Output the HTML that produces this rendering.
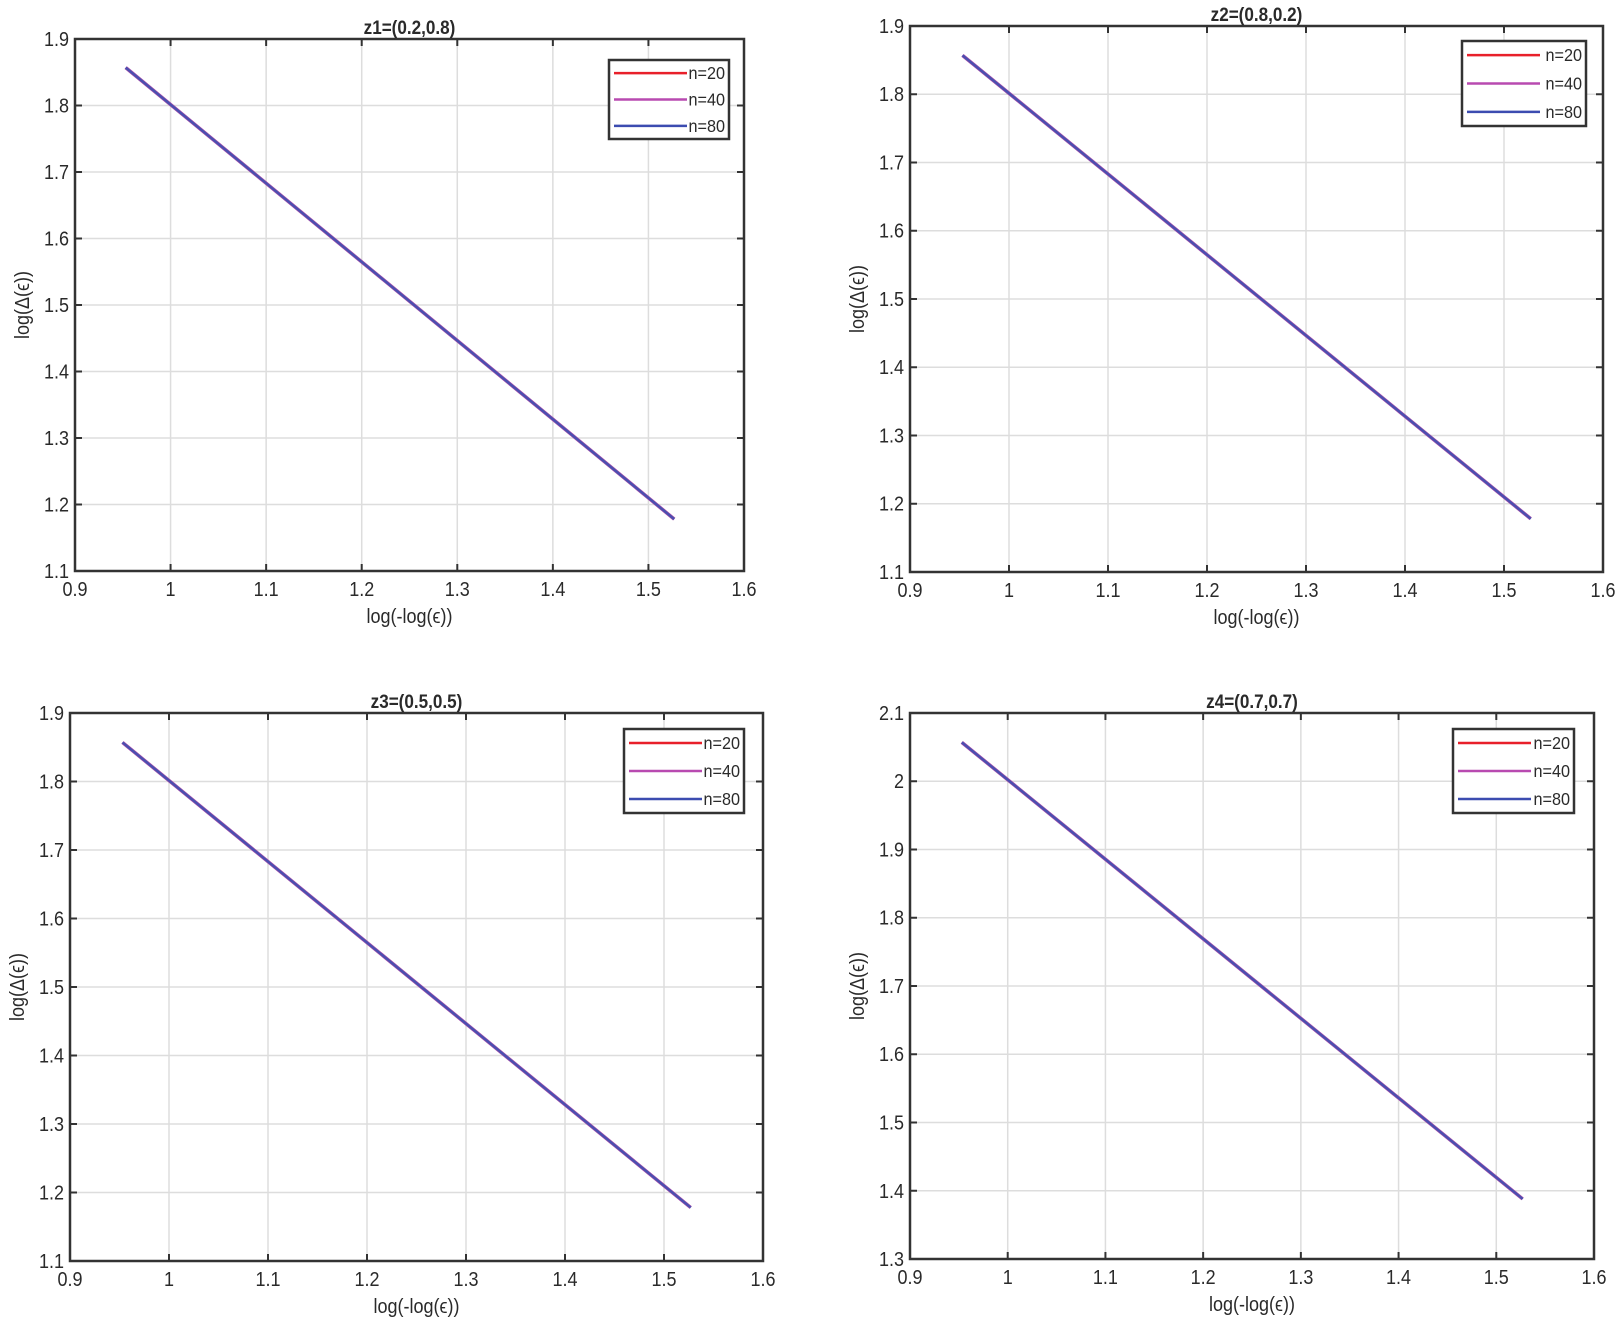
<!DOCTYPE html>
<html><head><meta charset="utf-8"><style>
html,body{margin:0;padding:0;background:#fff;}
svg{display:block;}
text{font-family:"Liberation Sans",sans-serif;fill:#2a2a2a;}
</style></head><body>
<svg id="s" width="1622" height="1330" xmlns="http://www.w3.org/2000/svg"></svg>
<script>
const P=[
 {t:"z1=(0.2,0.8)",L:75,R:744,T:39,B:571,y0:1.1,y1:1.9,a:1.857,b:1.178,lg:[609,60,729,139]},
 {t:"z2=(0.8,0.2)",L:910,R:1603,T:26,B:572,y0:1.1,y1:1.9,a:1.857,b:1.178,lg:[1462,41,1586,126]},
 {t:"z3=(0.5,0.5)",L:70,R:763,T:713,B:1261,y0:1.1,y1:1.9,a:1.857,b:1.178,lg:[624,729,744,813]},
 {t:"z4=(0.7,0.7)",L:910,R:1594,T:713,B:1259,y0:1.3,y1:2.1,a:2.057,b:1.388,lg:[1453,729,1574,813]}
];
let h="";
for(const p of P){
 const X=v=>p.L+(v-0.9)/0.7*(p.R-p.L), Y=v=>p.B-(v-p.y0)/(p.y1-p.y0)*(p.B-p.T);
 for(let i=0;i<=7;i++){const x=X(0.9+i*0.1);
  if(i>0&&i<7)h+=`<line x1="${x}" y1="${p.T}" x2="${x}" y2="${p.B}" stroke="#ddd" stroke-width="1.5"/><line x1="${x}" y1="${p.B}" x2="${x}" y2="${p.B-7}" stroke="#333" stroke-width="2"/><line x1="${x}" y1="${p.T}" x2="${x}" y2="${p.T+7}" stroke="#333" stroke-width="2"/>`;
  h+=`<text x="${x}" y="${p.B+25}" font-size="20" text-anchor="middle" transform="translate(${x},0) scale(0.9,1) translate(${-x},0)">${(0.9+i*0.1).toFixed(1).replace(/\.0$/,"")}</text>`;}
 for(let i=0;i<=8;i++){const v=p.y0+i*0.1,y=Y(v);
  if(i>0&&i<8)h+=`<line x1="${p.L}" y1="${y}" x2="${p.R}" y2="${y}" stroke="#ddd" stroke-width="1.5"/><line x1="${p.L}" y1="${y}" x2="${p.L+7}" y2="${y}" stroke="#333" stroke-width="2"/><line x1="${p.R}" y1="${y}" x2="${p.R-7}" y2="${y}" stroke="#333" stroke-width="2"/>`;
  h+=`<text x="${p.L-6}" y="${y+7}" font-size="20" text-anchor="end" transform="translate(${p.L-6},0) scale(0.9,1) translate(${-(p.L-6)},0)">${v.toFixed(1).replace(/\.0$/,"")}</text>`;}
 h+=`<line x1="${X(0.953)}" y1="${Y(p.a)}" x2="${X(1.527)}" y2="${Y(p.b)}" stroke="#a04aa8" stroke-width="3.5"/><line x1="${X(0.953)}" y1="${Y(p.a)}" x2="${X(1.527)}" y2="${Y(p.b)}" stroke="#4850b0" stroke-width="2.2"/>`;
 h+=`<rect x="${p.L}" y="${p.T}" width="${p.R-p.L}" height="${p.B-p.T}" fill="none" stroke="#333" stroke-width="2.5"/>`;
 const cx=(p.L+p.R)/2;
 h+=`<text x="${cx}" y="${p.T-5}" font-size="19" font-weight="bold" text-anchor="middle" transform="translate(${cx},0) scale(0.9,1) translate(${-cx},0)">${p.t}</text>`;
 h+=`<text x="${cx}" y="${p.B+52}" font-size="20" text-anchor="middle" transform="translate(${cx},0) scale(0.9,1) translate(${-cx},0)">log(-log(ϵ))</text>`;
 const cy=(p.T+p.B)/2;
 h+=`<text transform="translate(${p.L-46},${cy}) rotate(-90) scale(0.9,1)" font-size="20" text-anchor="middle">log(Δ(ϵ))</text>`;
 const [a,b,c,d]=p.lg;
 h+=`<rect x="${a}" y="${b}" width="${c-a}" height="${d-b}" fill="#fff" stroke="#333" stroke-width="2.5"/>`;
 const cols=["#e8202a","#b84ab0","#3c4cb0"],lab=["n=20","n=40","n=80"],st=(d-b)/3;
 for(let k=0;k<3;k++){const y=b+st*(k+0.5);
  h+=`<line x1="${a+5}" y1="${y}" x2="${a+78}" y2="${y}" stroke="${cols[k]}" stroke-width="2.5"/><text x="${c-4}" y="${y+6}" font-size="18" text-anchor="end" transform="translate(${c-4},0) scale(0.9,1) translate(${-(c-4)},0)">${lab[k]}</text>`;}
}
document.getElementById("s").innerHTML=h;
</script>
</body></html>
